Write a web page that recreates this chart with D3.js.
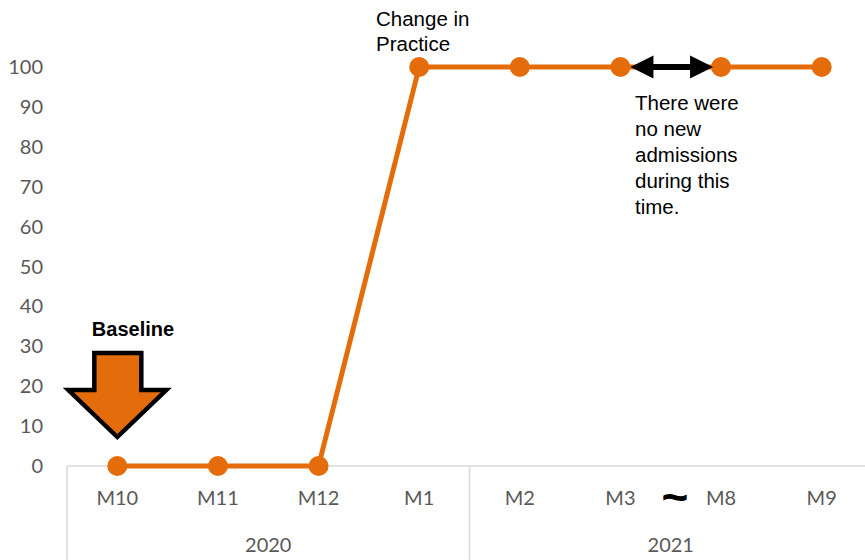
<!DOCTYPE html>
<html><head><meta charset="utf-8">
<script src="https://cdn.jsdelivr.net/npm/d3@7"></script>
<style>body{margin:0;background:#fff}svg{display:block}</style>
</head><body>
<svg id="chart" width="865" height="560"></svg>
<script>
const categories = ["M10","M11","M12","M1","M2","M3","M8","M9"];
const values = [0,0,0,100,100,100,100,100];
const years = ["2020","2021"];
const yearSpans = [[0,4],[4,8]];
const yTicks = [0,10,20,30,40,50,60,70,80,90,100];

const svg = d3.select("#chart");
const orange = "#E46C0A";
const gridGray = "#d9d9d9";
const labelGray = "#595959";
const labelFont = "Lato, 'Open Sans', sans-serif";
const annFont = "'Liberation Sans', Arial, sans-serif";

const x = d3.scaleBand().domain(categories).range([67, 872]).padding(0);
const y = d3.scaleLinear().domain([0,100]).range([466, 67]);

// y tick labels
svg.append("g").selectAll("text").data(yTicks).join("text")
  .attr("x", 43).attr("y", d => y(d)).attr("dy", "0.35em")
  .attr("text-anchor", "end").attr("fill", labelGray)
  .style("font-family", labelFont).style("font-size", "20px")
  .text(d => d);

// horizontal axis line
svg.append("line").attr("x1", 67).attr("x2", 865).attr("y1", y(0)).attr("y2", y(0))
  .attr("stroke", gridGray).attr("stroke-width", 1.5);

// group separators
const sepX = [x(categories[0]), x(categories[4]), x(categories[7]) + x.bandwidth()];
svg.append("g").selectAll("line").data(sepX).join("line")
  .attr("x1", d => d).attr("x2", d => d).attr("y1", y(0)).attr("y2", 560)
  .attr("stroke", gridGray).attr("stroke-width", 1.5);

// category labels
svg.append("g").selectAll("text").data(categories).join("text")
  .attr("x", d => x(d) + x.bandwidth()/2).attr("y", 498).attr("dy", "0.35em")
  .attr("text-anchor", "middle").attr("fill", labelGray)
  .style("font-family", labelFont).style("font-size", "20px")
  .text(d => d);

// year labels
svg.append("g").selectAll("text").data(years).join("text")
  .attr("x", (d,i) => (x(categories[yearSpans[i][0]]) + x(categories[yearSpans[i][1]-1]) + x.bandwidth())/2)
  .attr("y", 545).attr("dy", "0.35em")
  .attr("text-anchor", "middle").attr("fill", labelGray)
  .style("font-family", labelFont).style("font-size", "20px")
  .text(d => d);

// tilde between M3 and M8
svg.append("text").attr("x", 675).attr("y", 513)
  .attr("text-anchor", "middle").attr("fill", "#000")
  .style("font-family", annFont).style("font-size", "46px").style("font-weight", "bold")
  .text("~");

// line
const cx = d => x(d) + x.bandwidth()/2;
const pts = categories.map((c,i) => [cx(c), y(values[i])]);
svg.append("path").attr("d", d3.line()(pts))
  .attr("fill", "none").attr("stroke", orange).attr("stroke-width", 5)
  .attr("stroke-linejoin", "round");
svg.append("g").selectAll("circle").data(pts).join("circle")
  .attr("cx", d => d[0]).attr("cy", d => d[1]).attr("r", 10).attr("fill", orange);

// Baseline arrow
const ax = cx("M10");
const arrow = [[ax-23,353],[ax+24,353],[ax+24,390],[ax+49,390],[ax,437],[ax-49,390],[ax-23,390]];
svg.append("path").attr("d", d3.line()(arrow) + "Z")
  .attr("fill", orange).attr("stroke", "#000").attr("stroke-width", 4.5)
  .attr("stroke-linejoin", "miter");
svg.append("text").attr("x", 133).attr("y", 336).attr("text-anchor", "middle")
  .style("font-family", annFont).style("font-size", "20px").style("font-weight", "bold")
  .text("Baseline");

// Change in Practice
const cip = svg.append("text").style("font-family", annFont).style("font-size", "20.5px").attr("fill", "#000");
cip.append("tspan").attr("x", 376).attr("y", 26).text("Change in");
cip.append("tspan").attr("x", 376).attr("y", 51).text("Practice");

// double arrow
const l = cx("M3") + 10, r = cx("M8") - 8, ay = y(100);
svg.append("line").attr("x1", l + 18).attr("x2", r - 18).attr("y1", ay).attr("y2", ay)
  .attr("stroke", "#000").attr("stroke-width", 6);
svg.append("path").attr("d", `M${l},${ay}L${l+23},${ay-11.5}L${l+23},${ay+11.5}Z`).attr("fill", "#000");
svg.append("path").attr("d", `M${r},${ay}L${r-23},${ay-11.5}L${r-23},${ay+11.5}Z`).attr("fill", "#000");

// note text
const note = ["There were","no new","admissions","during this","time."];
const nt = svg.append("text").style("font-family", annFont).style("font-size", "20.5px").attr("fill", "#000");
note.forEach((s,i) => nt.append("tspan").attr("x", 635).attr("y", 110 + i*26).text(s));
</script>
</body></html>
